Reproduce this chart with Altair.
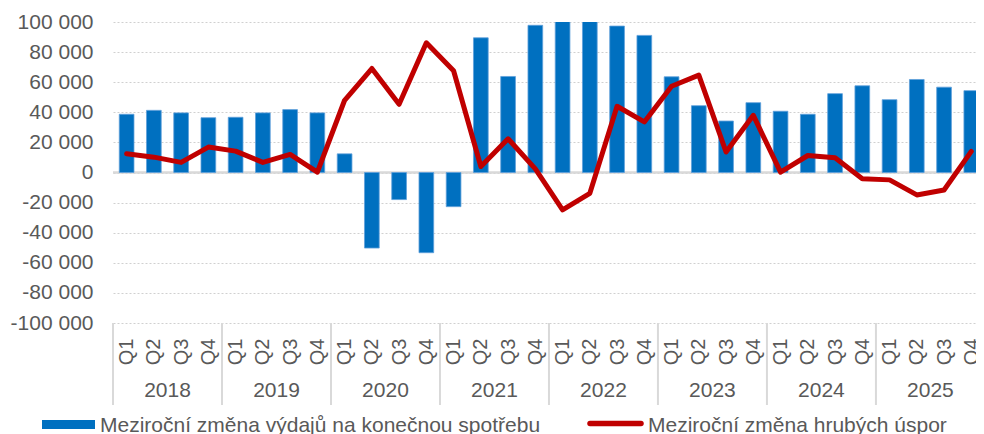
import altair as alt
import pandas as pd

YEARS = ["2018", "2019", "2020", "2021", "2022", "2023", "2024", "2025"]
QUARTERS = ["Q1", "Q2", "Q3", "Q4"]
SPENDING = [
    38700, 41300, 39600, 36400,
    36700, 39600, 41800, 39600,
    12400, -50200, -18000, -53300,
    -22700, 89500, 63800, 97800,
    106000, 104000, 97300, 91100,
    63600, 44400, 34200, 46400,
    40700, 38700, 52400, 57600,
    48400, 61800, 56700, 54400,
]
SAVINGS = [
    12400, 10200, 6700, 16900,
    14200, 6700, 12000, 200,
    48000, 69100, 45300, 86200,
    67600, 4000, 22400, 2400,
    -24900, -13800, 44000, 33600,
    57300, 64700, 13600, 38000,
    200, 11300, 9800, -4200,
    -4900, -14900, -11600, 14000,
]
SERIES = ["Meziroční změna výdajů na konečnou spotřebu", "Meziroční změna hrubých úspor"]

rows = []
for i, yr in enumerate(YEARS):
    for j, q in enumerate(QUARTERS):
        k = i * 4 + j
        rows.append({"idx": k, "year": yr, "quarter": q,
                     "spending": SPENDING[k], "savings": SAVINGS[k]})
df = pd.DataFrame(rows)
years_df = pd.DataFrame({"year": YEARS, "yi": list(range(len(YEARS)))})
zero_df = pd.DataFrame({"v": [0]})
leg1 = pd.DataFrame({"name": [SERIES[0]]})
leg2 = pd.DataFrame({"name": [SERIES[1]]})

W, H = 863, 301
FONT = "Liberation Sans"
GREY = "#595959"
n = len(df)
x_scale = alt.Scale(domain=[-0.5, n - 0.5 - 9 / 27.5], nice=False, zero=False, padding=0)
y_scale = alt.Scale(domain=[-100000, 100000], nice=False, padding=0)

qarr = "[" + ",".join("'%s'" % q for q in QUARTERS) + "]"
x_axis = alt.Axis(values=list(range(n)), labelExpr=qarr + "[datum.value % 4]",
                  labelAngle=270, labelFontSize=20, labelColor=GREY, labelFont=FONT,
                  labelPadding=15, ticks=False, domain=False, grid=False,
                  title=None, labelOverlap=False, labelFlush=False, labelBound=False)
y_axis = alt.Axis(values=list(range(-100000, 100001, 20000)),
                  labelExpr="replace(replace(format(datum.value, ','), ',', ' '), '\u2212', '-')",
                  grid=True, gridDash=[2, 2], gridColor="#d0d0d0", gridWidth=1,
                  domain=False, ticks=False, labelFontSize=21, labelColor=GREY,
                  labelFont=FONT, labelPadding=20, title=None)

zero = alt.Chart(zero_df).mark_rule(color="#d9d9d9", strokeWidth=2.5).encode(
    y=alt.Y("v:Q", scale=y_scale, axis=y_axis)
)

bars = alt.Chart(df).transform_calculate(
    xa="datum.idx - 0.27", xb="datum.idx + 0.27"
).mark_bar(color="#0070C0", stroke="#5FA0DA", strokeWidth=0.8, clip=True,
           orient="vertical").encode(
    x=alt.X("xa:Q", scale=x_scale, axis=x_axis),
    x2="xb:Q",
    y=alt.Y("spending:Q", scale=y_scale, axis=y_axis),
    y2=alt.datum(0),
)

line = alt.Chart(df).mark_line(color="#C00000", strokeWidth=5, clip=True,
                               strokeJoin="round", strokeCap="round").encode(
    x=alt.X("idx:Q", scale=x_scale, axis=x_axis),
    y=alt.Y("savings:Q", scale=y_scale, axis=y_axis),
)

seps = alt.Chart(years_df).transform_calculate(sx="datum.yi * 4 - 0.5").mark_rule(
    color="#d9d9d9", strokeWidth=2
).encode(
    x=alt.X("sx:Q", scale=x_scale, axis=x_axis),
    y=alt.value(H), y2=alt.value(H + 82),
)

ylabels = alt.Chart(years_df).transform_calculate(cx="datum.yi * 4 + 1.5").mark_text(
    fontSize=21, color=GREY, font=FONT, baseline="middle", align="center"
).encode(
    x=alt.X("cx:Q", scale=x_scale, axis=x_axis),
    y=alt.value(368.5),
    text="year:N",
)

leg_rect = alt.Chart(leg1).mark_rect(color="#0070C0").encode(
    x=alt.value(-71), x2=alt.value(-18), y=alt.value(398), y2=alt.value(407)
)
leg_text1 = alt.Chart(leg1).mark_text(
    fontSize=21, color=GREY, font=FONT, align="left", baseline="alphabetic"
).encode(x=alt.value(-13), y=alt.value(409.5), text="name:N")

leg_line = alt.Chart(leg2).mark_rule(color="#C00000", strokeWidth=5.5, strokeCap="round").encode(
    x=alt.value(477), x2=alt.value(528), y=alt.value(401.5)
)
leg_text2 = alt.Chart(leg2).mark_text(
    fontSize=21, color=GREY, font=FONT, align="left", baseline="alphabetic"
).encode(x=alt.value(535), y=alt.value(409.5), text="name:N")

chart = alt.layer(
    zero, bars, line, seps, ylabels, leg_rect, leg_text1, leg_line, leg_text2
).properties(
    width=W, height=H,
    autosize=alt.AutoSizeParams(type="none"),
    padding={"left": 105, "top": 14, "right": 0, "bottom": 111},
).configure_view(stroke=None)

chart.save("out.html", embed_options={"renderer": "svg", "actions": False})
